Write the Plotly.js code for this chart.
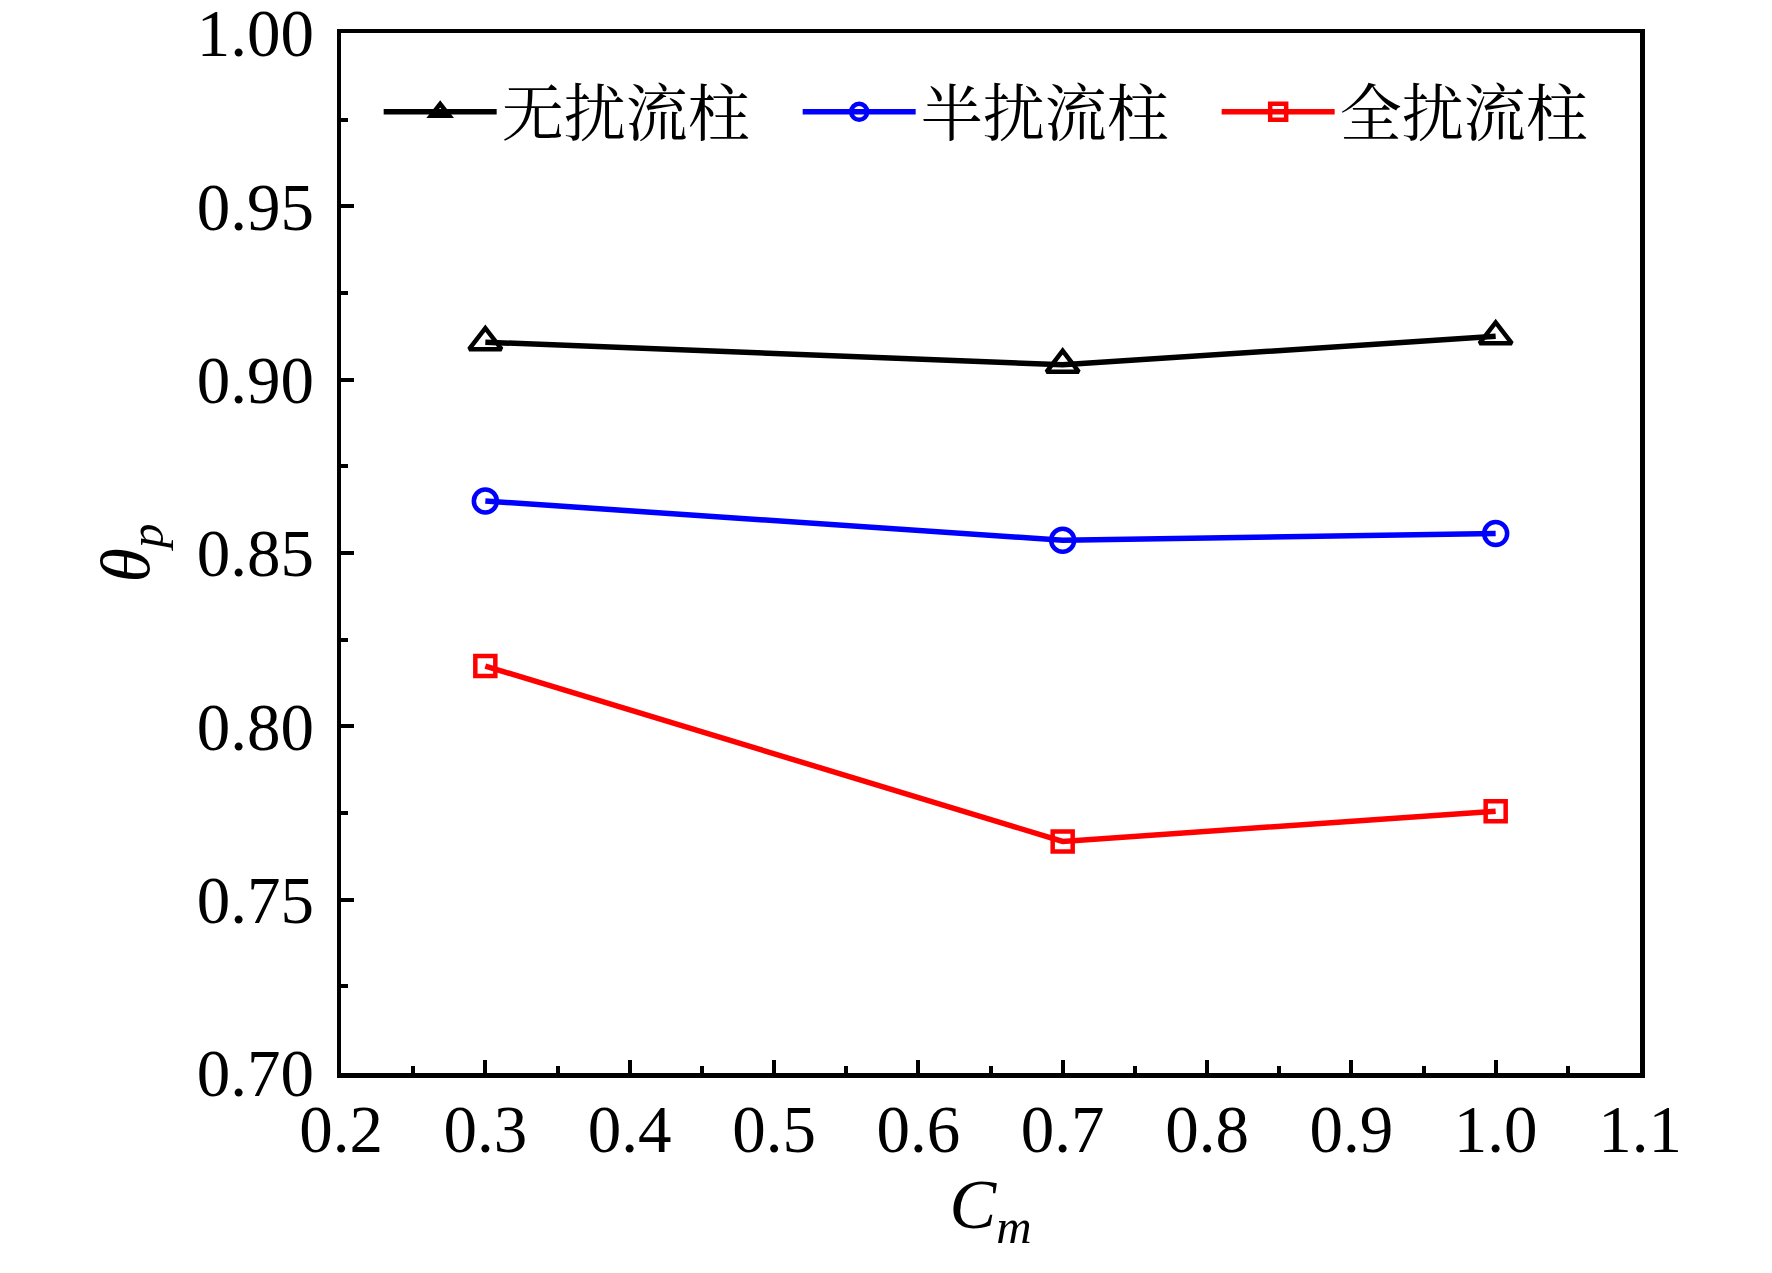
<!DOCTYPE html>
<html>
<head>
<meta charset="utf-8">
<script src="https://cdn.plot.ly/plotly-3.0.1.min.js"></script>
<style>html,body{margin:0;padding:0;background:#fff;}#chart{width:1772px;height:1273px;}</style>
</head>
<body>
<div id="chart"></div>
<script>
const cm = [0.3, 0.7, 1.0];
const seriesNames = ['无扰流柱', '半扰流柱', '全扰流柱'];
const noBaffle = [0.9108, 0.9043, 0.9125];
const halfBaffle = [0.8650, 0.8537, 0.8556];
const fullBaffle = [0.8174, 0.7668, 0.7755];
const xTickVals = [0.2, 0.3, 0.4, 0.5, 0.6, 0.7, 0.8, 0.9, 1.0, 1.1];
const xTickText = ['0.2', '0.3', '0.4', '0.5', '0.6', '0.7', '0.8', '0.9', '1.0', '1.1'];
const yTickVals = [0.70, 0.75, 0.80, 0.85, 0.90, 0.95, 1.00];
const yTickText = ['0.70', '0.75', '0.80', '0.85', '0.90', '0.95', '1.00'];

const serif = '"Liberation Serif", "Times New Roman", serif';
const cjk = '"Liberation Serif", "Noto Serif CJK SC", "Noto Sans CJK SC", serif';

const styles = [
  {color: '#000000', symbol: 'triangle-up-open', size: 28},
  {color: '#0000ff', symbol: 'circle-open', size: 23},
  {color: '#ff0000', symbol: 'square-open', size: 20}
];
const ys = [noBaffle, halfBaffle, fullBaffle];

const traces = ys.map((y, i) => ({
  x: cm, y: y, name: seriesNames[i], type: 'scatter', mode: 'lines+markers',
  line: {color: styles[i].color, width: 5.5},
  marker: {symbol: styles[i].symbol, size: styles[i].size, color: styles[i].color,
           line: {width: 4.5, color: styles[i].color}}
}));

const layout = {
  width: 1772, height: 1273,
  margin: {l: 341, r: 132, t: 33, b: 200, pad: 0},
  paper_bgcolor: '#fff', plot_bgcolor: '#fff',
  showlegend: true,
  legend: {
    orientation: 'h', x: 0.029, y: 0.924, xanchor: 'left', yanchor: 'middle',
    font: {family: cjk, size: 62, color: '#000'},
    itemwidth: 113, entrywidth: 291, entrywidthmode: 'pixels',
    bgcolor: 'rgba(0,0,0,0)', borderwidth: 0,
    tracegroupgap: 0
  },
  xaxis: {
    range: [0.2, 1.1], tickmode: 'array', tickvals: xTickVals, ticktext: xTickText,
    ticks: 'inside', ticklen: 13, tickwidth: 4, tickcolor: '#000',
    minor: {dtick: 0.05, ticks: 'inside', ticklen: 7, tickwidth: 4, tickcolor: '#000', showgrid: false},
    showline: true, linewidth: 4.5, linecolor: '#000', mirror: true,
    showgrid: false, zeroline: false,
    tickfont: {family: serif, size: 67, color: '#000'},
    ticklabelstandoff: -6, ticklabeloverflow: 'allow',
    title: {text: '<i>C</i><sub><i>m</i></sub>', font: {family: serif, size: 70, color: '#000'}, standoff: 8}
  },
  yaxis: {
    range: [0.70, 1.00], tickmode: 'array', tickvals: yTickVals, ticktext: yTickText,
    ticks: 'inside', ticklen: 13, tickwidth: 4, tickcolor: '#000',
    minor: {dtick: 0.025, ticks: 'inside', ticklen: 7, tickwidth: 4, tickcolor: '#000', showgrid: false},
    showline: true, linewidth: 4.5, linecolor: '#000', mirror: true,
    showgrid: false, zeroline: false,
    tickfont: {family: serif, size: 67, color: '#000'},
    ticklabelstandoff: 9, ticklabeloverflow: 'allow',
    title: {text: '<i>θ</i><sub><i>p</i></sub>', font: {family: serif, size: 70, color: '#000'}, standoff: 26}
  }
};

Plotly.newPlot('chart', traces, layout, {staticPlot: true, displayModeBar: false});
</script>
</body>
</html>
